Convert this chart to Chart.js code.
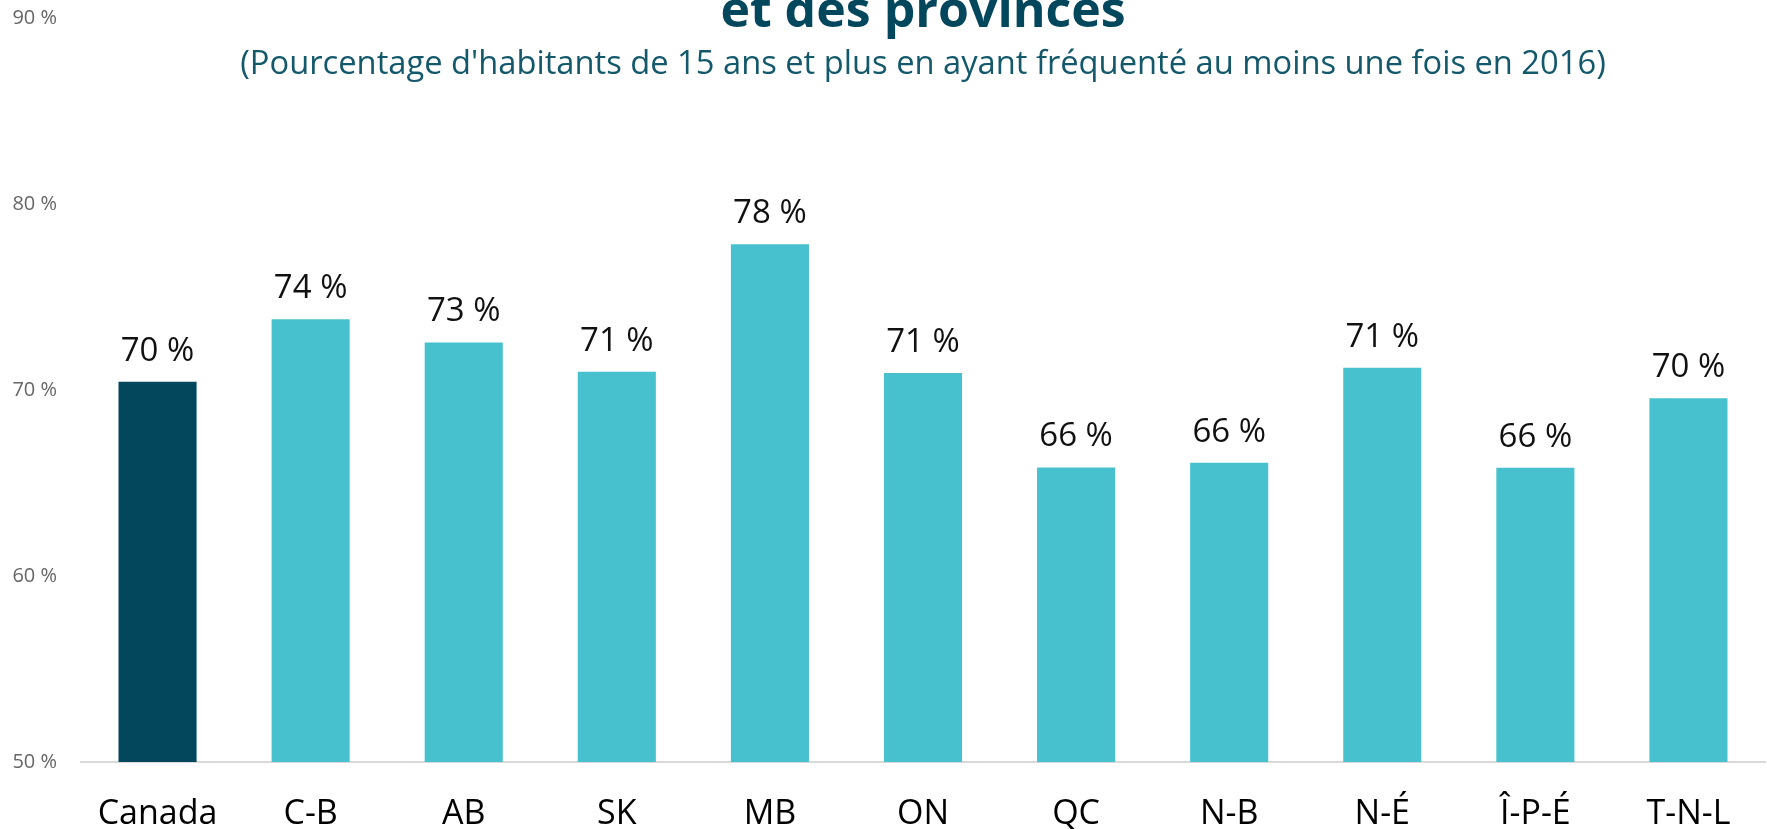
<!DOCTYPE html>
<html>
<head>
<meta charset="utf-8">
<script src="https://cdn.jsdelivr.net/npm/chart.js"></script>
<style>
  body { margin: 0; background: #fff; }
  #wrap { width: 1767px; height: 829px; }
</style>
</head>
<body>
<div id="wrap"><canvas id="chart" width="1767" height="829"></canvas></div>
<script>
// data
var provinces = ["Canada", "C-B", "AB", "SK", "MB", "ON", "QC", "N-B", "N-É", "Î-P-É", "T-N-L"];
var frequentation = [70.45, 73.80, 72.56, 70.98, 77.83, 70.91, 65.84, 66.09, 71.20, 65.82, 69.55];
var yTicks = [50, 60, 70, 80, 90];
var titleText = "et des provinces";
var subtitleText = "(Pourcentage d'habitants de 15 ans et plus en ayant fréquenté au moins une fois en 2016)";

var barColors = provinces.map(function (p, i) {
    return i === 0 ? '#03475c' : '#47c1ce'; // Canada dark, provinces light
});

// title + subtitle, centred over the plot area (first title line is cut off at the top)
var titlePlugin = {
    id: 'titres',
    afterDraw: function (chart) {
        var ctx = chart.ctx;
        var cx = (chart.chartArea.left + chart.chartArea.right) / 2;
        ctx.save();
        ctx.textAlign = 'center';
        ctx.textBaseline = 'alphabetic';
        ctx.fillStyle = '#03475c';
        ctx.font = 'bold 50px "Open Sans"';
        ctx.fillText(titleText, cx, 27);
        ctx.fillStyle = '#13596b';
        ctx.font = '32.7px "Open Sans"';
        ctx.fillText(subtitleText, cx, 74);
        ctx.restore();
    }
};

// value labels above each bar
var valuePlugin = {
    id: 'valeurs',
    afterDatasetsDraw: function (chart) {
        var ctx = chart.ctx;
        var meta = chart.getDatasetMeta(0);
        ctx.save();
        ctx.textAlign = 'center';
        ctx.textBaseline = 'alphabetic';
        ctx.fillStyle = '#111';
        ctx.font = '33px "Open Sans"';
        meta.data.forEach(function (bar, i) {
            ctx.fillText(Math.round(frequentation[i]) + ' %', bar.x, bar.y - 21);
        });
        ctx.restore();
    }
};

var ctx = document.getElementById('chart').getContext('2d');
window.myChart = new Chart(ctx, {
    type: 'bar',
    data: {
        labels: provinces,
        datasets: [{
            label: 'Fréquentation',
            data: frequentation,
            backgroundColor: barColors,
            borderWidth: 0,
            categoryPercentage: 1,
            barPercentage: 0.51
        }]
    },
    options: {
        responsive: false,
        animation: false,
        layout: { padding: { top: 18, right: 2, left: 0, bottom: 0 } },
        plugins: {
            legend: { display: false },
            tooltip: { enabled: false }
        },
        scales: {
            x: {
                grid: { display: false, drawTicks: false },
                border: { display: true, color: '#d9d9d9', width: 2 },
                ticks: {
                    color: '#000',
                    font: { family: 'Open Sans', size: 34, lineHeight: 1 },
                    padding: 35,
                    maxRotation: 0
                },
                afterFit: function (scale) {
                    scale.height = 67;
                    scale.paddingLeft = 0;
                    scale.paddingRight = 0;
                }
            },
            y: {
                min: yTicks[0],
                max: yTicks[yTicks.length - 1],
                grid: { display: false, drawTicks: false },
                border: { display: false },
                afterBuildTicks: function (scale) {
                    scale.ticks = yTicks.map(function (v) { return { value: v }; });
                },
                ticks: {
                    color: '#666',
                    font: { family: 'Open Sans', size: 20 },
                    padding: 24,
                    callback: function (v) { return v + ' %'; }
                },
                afterFit: function (scale) {
                    scale.width = 81;
                    scale.paddingTop = 0;
                    scale.paddingBottom = 0;
                }
            }
        }
    },
    plugins: [valuePlugin, titlePlugin]
});
</script>
</body>
</html>
